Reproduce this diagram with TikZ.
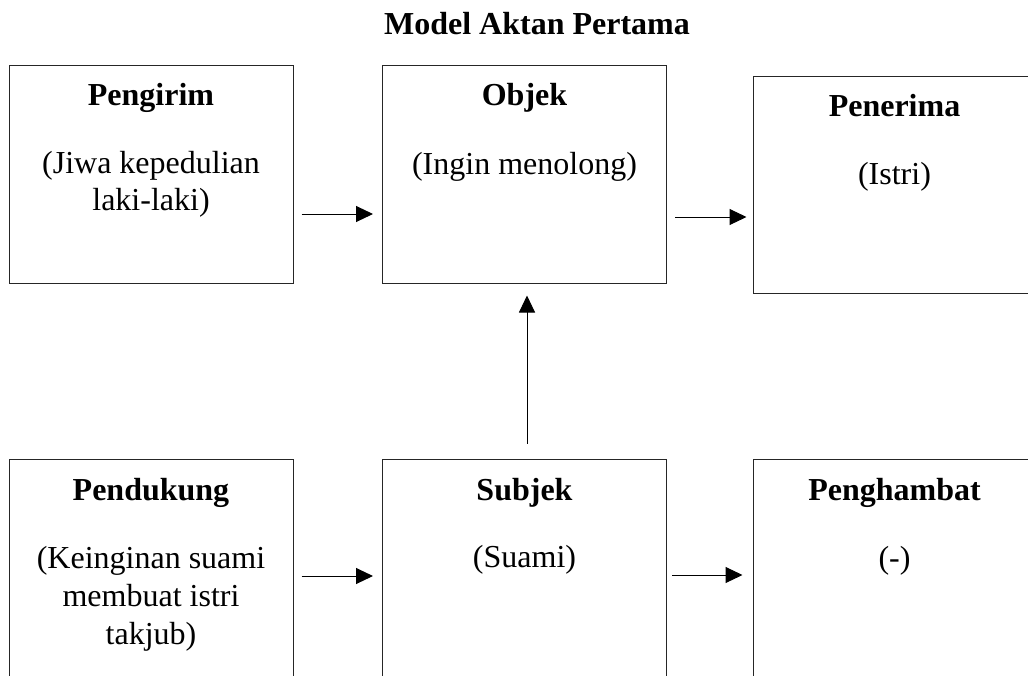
\documentclass[tikz,border=0pt]{standalone}
\usepackage{fontspec}
\setmainfont{Liberation Serif}
\usetikzlibrary{arrows.meta}
\begin{document}
\begin{tikzpicture}[x=1pt,y=1pt,
  box/.style={draw=black!85, line width=1pt, inner sep=0pt, minimum width=284, minimum height=218},
  head/.style={anchor=base, inner sep=0pt, font=\fontsize{32}{37}\selectfont\bfseries},
  body/.style={anchor=base, inner sep=0pt, font=\fontsize{32}{37}\selectfont},
  arr/.style={line width=1pt, -{Triangle[length=17pt,width=16pt]}}]
\path[use as bounding box, clip] (0,0) rectangle (1028,-675);

% title
\node[head] (title) at (537,-34) {Model Aktan Pertama};

% upper row
\node[box] (b1) at (151,-174) {};
\node[box] (b2) at (524.5,-174) {};
\node[box, minimum width=283, minimum height=217] (b3) at (894.5,-184.5) {};

\node[head] (h1) at (151,-105) {Pengirim};
\node[body] (t1a) at (151,-173) {(Jiwa kepedulian};
\node[body] (t1b) at (151,-210) {laki-laki)};

\node[head] (h2) at (524.5,-105) {Objek};
\node[body] (t2a) at (524.5,-174) {(Ingin menolong)};

\node[head] (h3) at (894.5,-116) {Penerima};
\node[body] (t3a) at (894.5,-184) {(Istri)};

% lower row (runs past the lower edge)
\node[box, minimum height=231] (b4) at (151,-574.5) {};
\node[box, minimum height=231] (b5) at (524.5,-574.5) {};
\node[box, minimum width=283, minimum height=231] (b6) at (894.5,-574.5) {};

\node[head] (h4) at (151,-500) {Pendukung};
\node[body] (t4a) at (151,-568) {(Keinginan suami};
\node[body] (t4b) at (151,-606) {membuat istri};
\node[body] (t4c) at (151,-644) {takjub)};

\node[head] (h5) at (524.5,-500) {Subjek};
\node[body] (t5a) at (524.5,-567) {(Suami)};

\node[head] (h6) at (894.5,-500) {Penghambat};
\node[body] (t6a) at (894.5,-568) {(-)};

% connectors
\draw[arr, shorten <=8pt, shorten >=9pt] ([yshift=-40]b1.east) -- ([yshift=-40]b2.west);
\draw[arr, shorten <=8pt, shorten >=6pt] ([yshift=-43]b2.east) -- ([yshift=-32.5]b3.west);
\draw[arr, shorten <=15pt, shorten >=12pt] ([xshift=2.5]b5.north) -- ([xshift=2.5]b2.south);
\draw[arr, shorten <=8pt, shorten >=9pt] ([yshift=-1.5]b4.east) -- ([yshift=-1.5]b5.west);
\draw[arr, shorten <=5pt, shorten >=10pt] ([yshift=-0.5]b5.east) -- ([yshift=-0.5]b6.west);
\end{tikzpicture}
\end{document}
